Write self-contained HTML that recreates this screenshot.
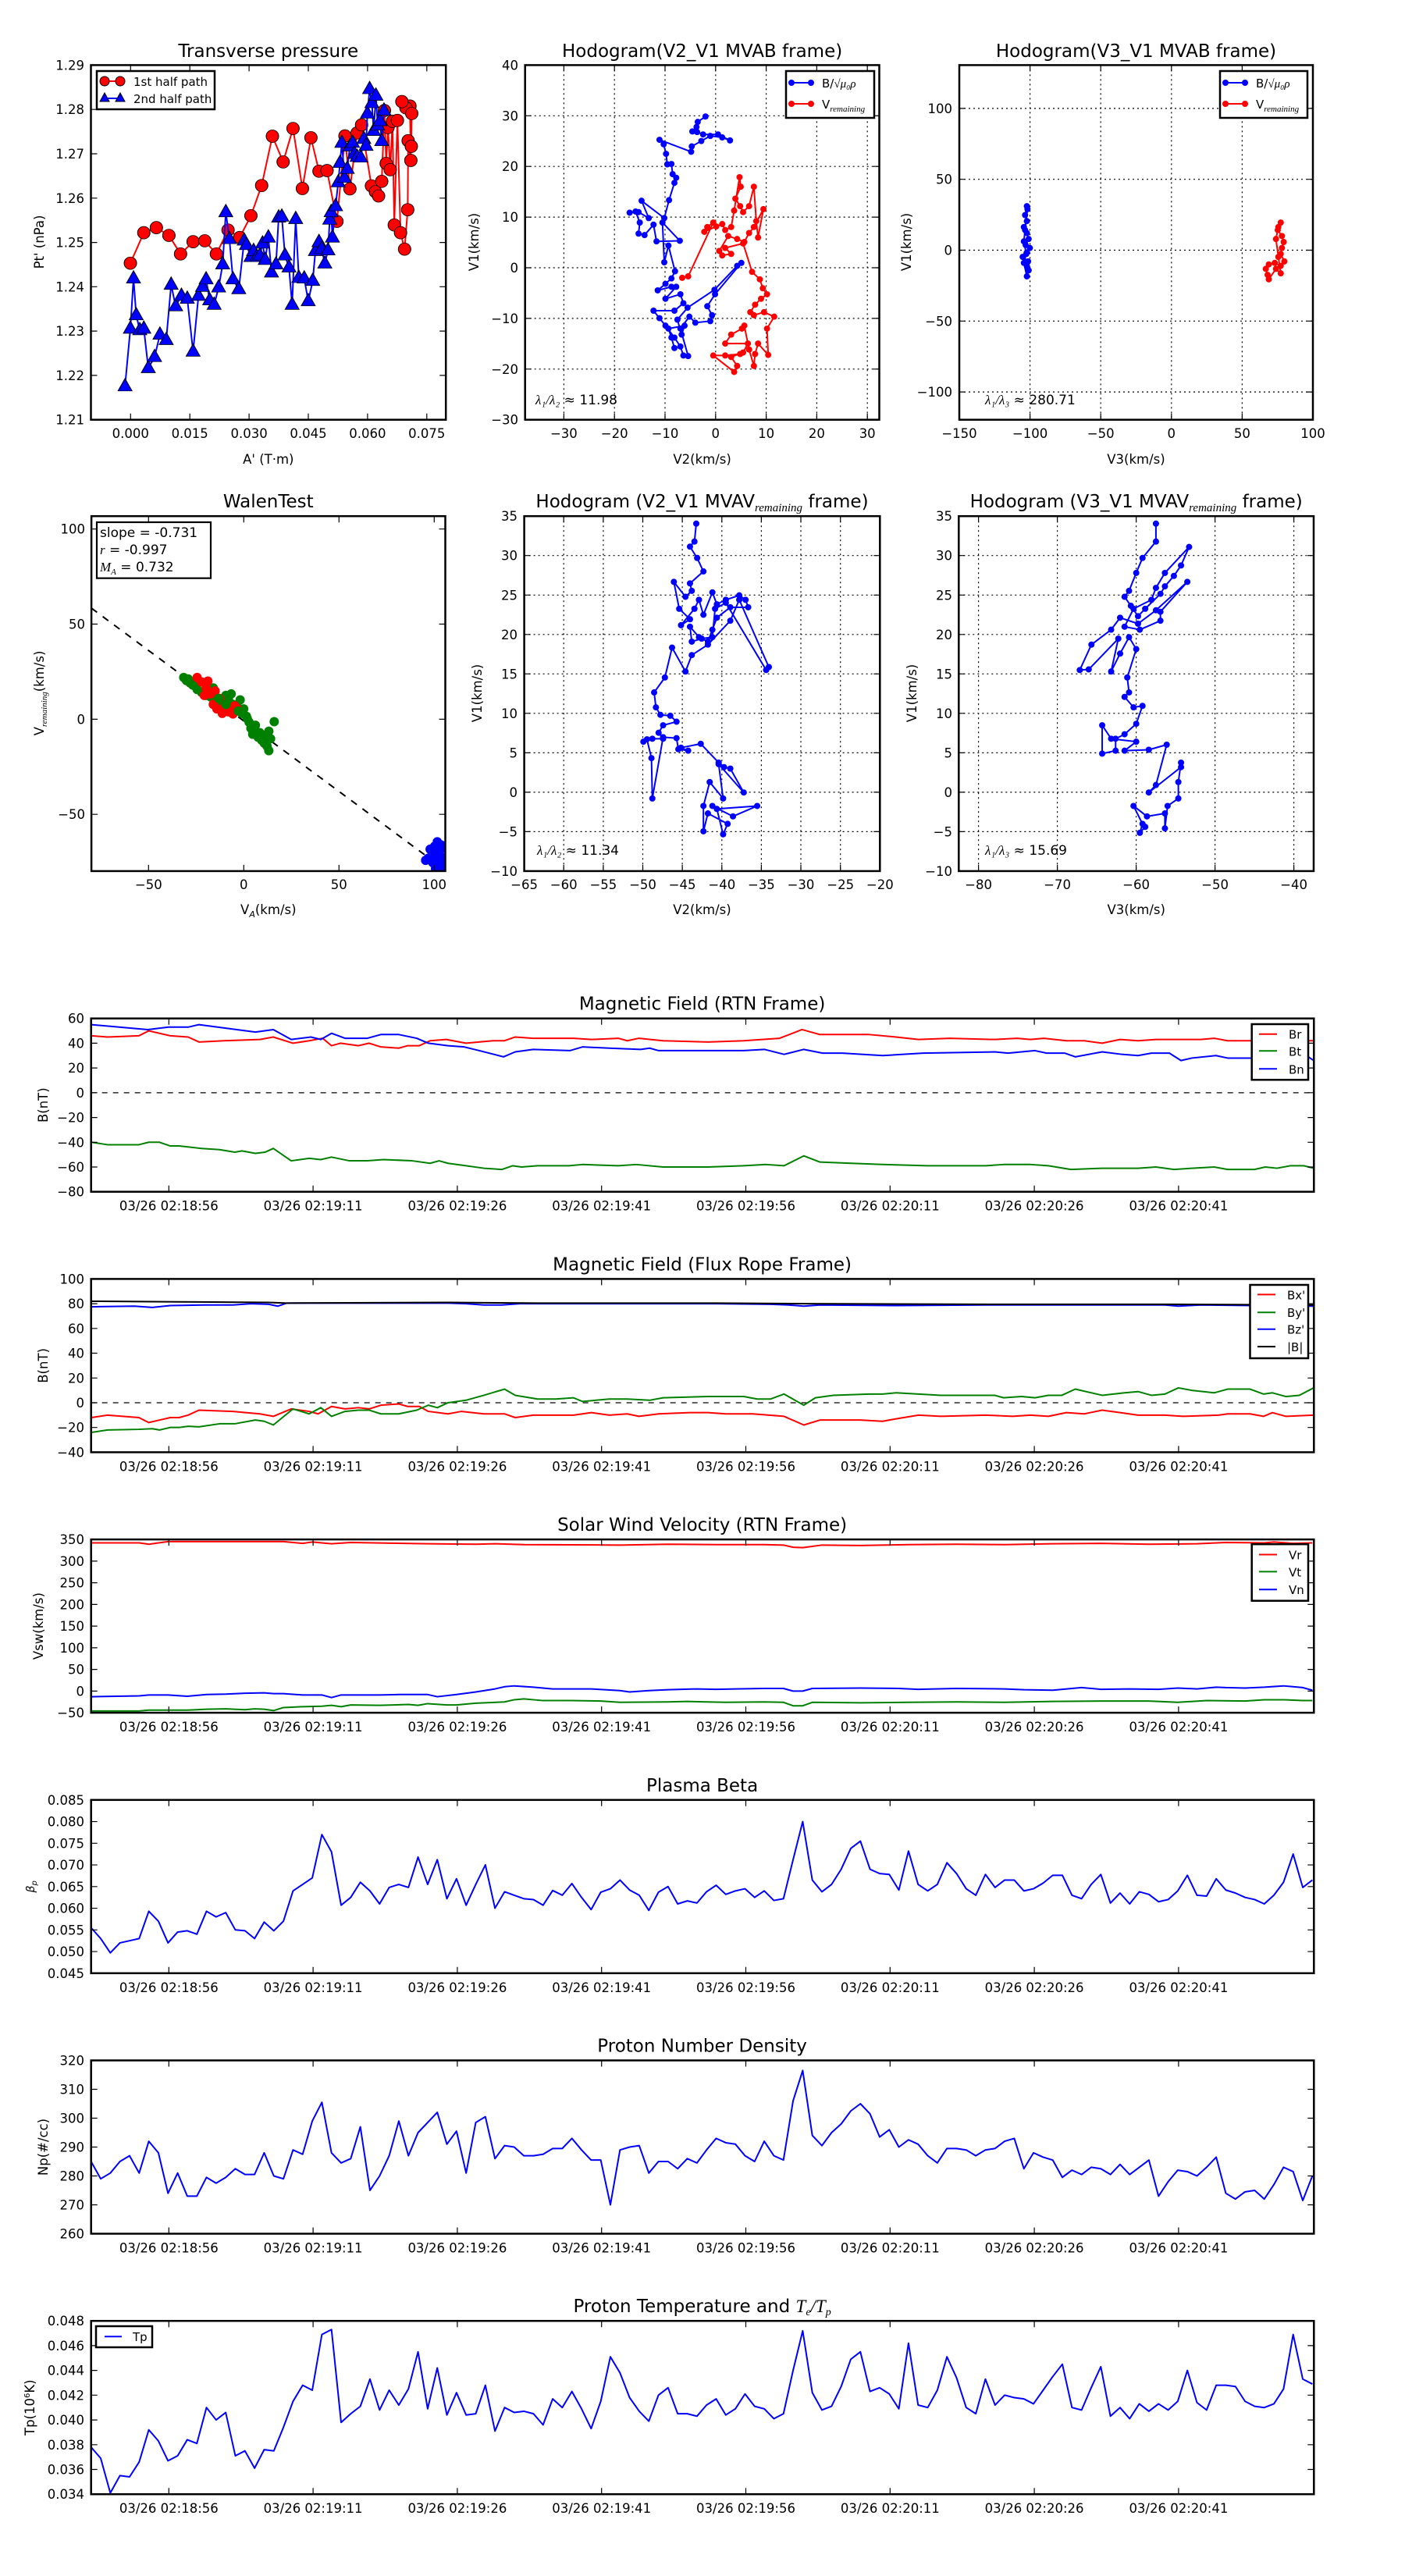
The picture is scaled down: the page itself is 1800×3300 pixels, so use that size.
<!DOCTYPE html>
<html><head><meta charset="utf-8"><style>
html,body{margin:0;padding:0;background:#fff}
svg{display:block}
text{font-family:"DejaVu Sans","Liberation Sans",sans-serif;fill:#000}
.t{font-size:16.5px}
.ti{font-size:23px}
.al{font-size:16.5px}
.ax{fill:none;stroke:#000;stroke-width:2.5}
.tk{fill:none;stroke:#000;stroke-width:1.2}
.gr{fill:none;stroke:#000;stroke-width:1.2;stroke-dasharray:2,4}
.ln{fill:none;stroke-width:2;vector-effect:non-scaling-stroke;stroke-linejoin:round}
.lg{fill:#fff;stroke:#000;stroke-width:2.5}
</style></head><body>
<svg width="1800" height="3300" viewBox="0 0 1800 3300" xmlns="http://www.w3.org/2000/svg">
<defs>
<marker id="mTPc" markerUnits="userSpaceOnUse" markerWidth="60" markerHeight="60" refX="0" refY="0" overflow="visible"><ellipse cx="0" cy="0" rx="13.9" ry="20.9" fill="#f00" stroke="#000" stroke-width="1.8"/></marker>
<marker id="mTPt" markerUnits="userSpaceOnUse" markerWidth="60" markerHeight="60" refX="0" refY="0" overflow="visible"><polygon points="0,-26 -15.7,15.7 15.7,15.7" fill="#00f" stroke="#000" stroke-width="1.8"/></marker>
<marker id="m3b" markerUnits="userSpaceOnUse" markerWidth="40" markerHeight="40" refX="0" refY="0" overflow="visible"><ellipse rx="5.2" ry="10.45" fill="#00f"/></marker>
<marker id="m3r" markerUnits="userSpaceOnUse" markerWidth="40" markerHeight="40" refX="0" refY="0" overflow="visible"><ellipse rx="5.2" ry="10.45" fill="#f00"/></marker>
<marker id="m4b" markerUnits="userSpaceOnUse" markerWidth="40" markerHeight="40" refX="0" refY="0" overflow="visible"><ellipse rx="3.5" ry="10.45" fill="#00f"/></marker>
<marker id="mWg" markerUnits="userSpaceOnUse" markerWidth="40" markerHeight="40" refX="0" refY="0" overflow="visible"><ellipse rx="5.2" ry="15.7" fill="#008000"/></marker>
<marker id="mWr" markerUnits="userSpaceOnUse" markerWidth="40" markerHeight="40" refX="0" refY="0" overflow="visible"><ellipse rx="5.2" ry="15.7" fill="#f00"/></marker>
<marker id="mWb" markerUnits="userSpaceOnUse" markerWidth="40" markerHeight="40" refX="0" refY="0" overflow="visible"><ellipse rx="5.2" ry="15.7" fill="#00f"/></marker>
<clipPath id="cW"><rect x="117.1" y="661.2" width="453.4" height="454.7"/></clipPath>
<clipPath id="cT"><rect x="116.7" y="0" width="1566.6" height="222"/></clipPath>
<g id="xt">
<path class="tk" d="M216.3,222v-8M401.1,222v-8M585.9,222v-8M770.7,222v-8M955.5,222v-8M1140.3,222v-8M1325.1,222v-8M1509.9,222v-8M216.3,0v8M401.1,0v8M585.9,0v8M770.7,0v8M955.5,0v8M1140.3,0v8M1325.1,0v8M1509.9,0v8"/>
<g class="t" text-anchor="middle">
<text x="216.3" y="246">03/26 02:18:56</text><text x="401.1" y="246">03/26 02:19:11</text><text x="585.9" y="246">03/26 02:19:26</text><text x="770.7" y="246">03/26 02:19:41</text><text x="955.5" y="246">03/26 02:19:56</text><text x="1140.3" y="246">03/26 02:20:11</text><text x="1325.1" y="246">03/26 02:20:26</text><text x="1509.9" y="246">03/26 02:20:41</text>
</g></g>
</defs>
<rect width="1800" height="3300" fill="#fff"/>

<!-- ================= Transverse pressure ================= -->
<text class="ti" x="343.8" y="73" text-anchor="middle">Transverse pressure</text>
<g transform="scale(0.574,0.3827)">
<polyline class="ln" stroke="#f00" marker-start="url(#mTPc)" marker-mid="url(#mTPc)" marker-end="url(#mTPc)" points="291,881 321,779 349,762 377,788 403,850 431,809 457,806 483,850 509,770 535,795 560,722 584,621 608,456 632,542 654,430 675,631 694,461 712,573 730,571 752,741 770,455 781,632 797,445 807,418 829,622 838,642 845,656 852,607 858,370 862,547 866,427 871,568 876,406 880,753 887,403 894,779 903,834 910,702 911,471 917,537 915,355 906,361 897,340 919,380 918,490"/>
<polyline class="ln" stroke="#00f" marker-start="url(#mTPt)" marker-mid="url(#mTPt)" marker-end="url(#mTPt)" points="279,1293 291,1100 298,932 304,1055 312,1105 321,1100 331,1232 345,1195 357,1120 371,1138 382,953 392,1025 405,990 418,1000 431,1177 443,990 452,960 460,935 468,1005 478,1020 488,962 497,885 504,710 512,800 520,935 533,968 545,805 550,820 560,860 566,840 573,860 580,855 586,815 592,870 599,795 606,912 616,885 622,728 629,725 636,855 645,895 652,1020 660,733 667,930 679,932 688,1008 698,940 704,840 712,810 718,833 725,882 732,838 736,735 739,710 742,795 749,690 755,610 759,545 763,478 769,595 775,565 781,490 787,478 791,515 797,525 805,527 812,465 817,488 820,380 825,298 830,345 834,438 839,320 843,420 848,405 852,472 857,370"/>
</g>
<rect class="ax" x="116.5" y="83.4" width="454.7" height="454.3"/>
<path class="tk" d="M167.3,537.7v-8M243.2,537.7v-8M319.1,537.7v-8M395,537.7v-8M470.9,537.7v-8M546.8,537.7v-8M167.3,83.4v8M243.2,83.4v8M319.1,83.4v8M395,83.4v8M470.9,83.4v8M546.8,83.4v8M116.5,140.2h8M116.5,197h8M116.5,253.8h8M116.5,310.6h8M116.5,367.3h8M116.5,424.1h8M116.5,480.9h8M571.2,140.2h-8M571.2,197h-8M571.2,253.8h-8M571.2,310.6h-8M571.2,367.3h-8M571.2,424.1h-8M571.2,480.9h-8"/>
<g class="t" text-anchor="middle"><text x="167.3" y="561">0.000</text><text x="243.2" y="561">0.015</text><text x="319.1" y="561">0.030</text><text x="395" y="561">0.045</text><text x="470.9" y="561">0.060</text><text x="546.8" y="561">0.075</text></g>
<g class="t" text-anchor="end"><text x="108" y="89.4">1.29</text><text x="108" y="146.2">1.28</text><text x="108" y="203">1.27</text><text x="108" y="259.8">1.26</text><text x="108" y="316.6">1.25</text><text x="108" y="373.3">1.24</text><text x="108" y="430.1">1.23</text><text x="108" y="486.9">1.22</text><text x="108" y="543.7">1.21</text></g>
<text class="al" x="343.8" y="594" text-anchor="middle">A' (T·m)</text>
<text class="al" transform="translate(56,310) rotate(-90)" text-anchor="middle">Pt' (nPa)</text>
<rect class="lg" x="124" y="91" width="151" height="49"/>
<line x1="134" y1="104" x2="154" y2="104" stroke="#f00" stroke-width="2"/><circle cx="134" cy="104" r="6" fill="#f00" stroke="#000"/><circle cx="154" cy="104" r="6" fill="#f00" stroke="#000"/>
<line x1="134" y1="126" x2="154" y2="126" stroke="#00f" stroke-width="2"/><polygon points="134,119 128,130 140,130" fill="#00f" stroke="#000"/><polygon points="154,119 148,130 160,130" fill="#00f" stroke="#000"/>
<text x="171" y="110" font-size="15">1st half path</text><text x="171" y="132" font-size="15">2nd half path</text>

<!-- ================= Hodogram V2_V1 MVAB ================= -->
<text class="ti" x="899.6" y="73" text-anchor="middle">Hodogram(V2_V1 MVAB frame)</text>
<path class="gr" d="M722.4,83.4V537.7M787.2,83.4V537.7M852,83.4V537.7M916.8,83.4V537.7M981.6,83.4V537.7M1046.4,83.4V537.7M1111.2,83.4V537.7M672.7,148.3H1126.5M672.7,213.2H1126.5M672.7,278.1H1126.5M672.7,343H1126.5M672.7,407.9H1126.5M672.7,472.8H1126.5"/>
<g transform="translate(600,0) scale(0.7653,0.3827)">
<polyline class="ln" stroke="#00f" marker-start="url(#m3b)" marker-mid="url(#m3b)" marker-end="url(#m3b)" points="397,390 384,408 382,425 375,440 383,442 393,450 418,450 438,470 425,460 405,455 390,472 374,490 373,508 320,468 327,483 331,515 333,550 340,549 342,583 348,595 345,612 336,670 328,730 290,672 302,730 285,710 270,712 280,708 287,745 285,782 295,787 310,752 315,808 354,806 325,745 328,878 335,822 346,908 340,932 330,950 317,972 340,960 348,960 330,1000 355,985 360,1015 345,1040 310,1040 320,1065 330,1090 345,1130 355,1160 360,1190 368,1192 355,1100 370,1060 380,1080 405,1075 408,1055 400,1025 413,985 457,880 450,890 412,970 367,1030 350,1070 357,1120 362,1090 335,1100 340,1130 345,1165"/>
<polyline class="ln" stroke="#f00" marker-start="url(#m3r)" marker-mid="url(#m3r)" marker-end="url(#m3r)" points="358,930 368,925 410,745 400,760 395,776 415,758 425,750 430,770 440,760 445,705 454,593 456,625 447,665 455,690 460,710 470,690 478,625 482,740 485,795 494,700 478,760 470,780 462,810 450,800 435,790 420,840 425,855 440,850 430,830 460,815 475,910 488,935 493,965 500,985 490,1000 480,1020 472,1045 478,1055 495,1045 512,1060 500,1100 502,1188 485,1150 480,1185 478,1225 470,1170 462,1090 458,1100 440,1120 430,1150 468,1150 460,1180 440,1195 450,1225 445,1245 410,1190 430,1190 455,1185"/>
</g>
<rect class="ax" x="672.7" y="83.4" width="453.8" height="454.3"/>
<path class="tk" d="M722.4,537.7v-8M787.2,537.7v-8M852,537.7v-8M916.8,537.7v-8M981.6,537.7v-8M1046.4,537.7v-8M1111.2,537.7v-8M722.4,83.4v8M787.2,83.4v8M852,83.4v8M916.8,83.4v8M981.6,83.4v8M1046.4,83.4v8M1111.2,83.4v8M672.7,148.3h8M672.7,213.2h8M672.7,278.1h8M672.7,343h8M672.7,407.9h8M672.7,472.8h8M1126.5,148.3h-8M1126.5,213.2h-8M1126.5,278.1h-8M1126.5,343h-8M1126.5,407.9h-8M1126.5,472.8h-8"/>
<g class="t" text-anchor="middle"><text x="722.4" y="561">−30</text><text x="787.2" y="561">−20</text><text x="852" y="561">−10</text><text x="916.8" y="561">0</text><text x="981.6" y="561">10</text><text x="1046.4" y="561">20</text><text x="1111.2" y="561">30</text></g>
<g class="t" text-anchor="end"><text x="664" y="89.4">40</text><text x="664" y="154.3">30</text><text x="664" y="219.2">20</text><text x="664" y="284.1">10</text><text x="664" y="349">0</text><text x="664" y="413.9">−10</text><text x="664" y="478.8">−20</text><text x="664" y="543.7">−30</text></g>
<text class="al" x="899.6" y="594" text-anchor="middle">V2(km/s)</text>
<text class="al" transform="translate(613,310) rotate(-90)" text-anchor="middle">V1(km/s)</text>
<text x="686" y="518" font-size="17"><tspan font-style="italic" font-family="Liberation Serif,serif">λ₁/λ₂</tspan> ≈ 11.98</text>
<rect class="lg" x="1007" y="91" width="113" height="60"/>
<line x1="1014" y1="106" x2="1039" y2="106" stroke="#00f" stroke-width="2"/><circle cx="1014" cy="106" r="4" fill="#00f"/><circle cx="1039" cy="106" r="4" fill="#00f"/>
<line x1="1014" y1="133" x2="1039" y2="133" stroke="#f00" stroke-width="2"/><circle cx="1014" cy="133" r="4" fill="#f00"/><circle cx="1039" cy="133" r="4" fill="#f00"/>
<text x="1053" y="112" font-size="15">B/<tspan font-family="Liberation Serif,serif" font-style="italic">√μ₀ρ</tspan></text>
<text x="1053" y="139" font-size="15">V<tspan font-size="11" font-style="italic" font-family="Liberation Serif,serif" dy="4">remaining</tspan></text>

<!-- ================= Hodogram V3_V1 MVAB ================= -->
<text class="ti" x="1455.5" y="73" text-anchor="middle">Hodogram(V3_V1 MVAB frame)</text>
<path class="gr" d="M1319.6,83.4V537.7M1410.2,83.4V537.7M1500.8,83.4V537.7M1591.4,83.4V537.7M1229,138.9H1682M1229,229.7H1682M1229,320.5H1682M1229,411.3H1682M1229,502.1H1682"/>
<g transform="translate(600,0) scale(0.7653,0.3827)">
<polyline class="ln" stroke="#00f" marker-start="url(#m3b)" marker-mid="url(#m3b)" marker-end="url(#m3b)" points="935,690 932,720 935,740 930,760 935,780 938,800 933,820 940,830 935,845 928,860 937,875 935,890 938,905 935,925 930,880 934,850 930,808 932,770 936,700"/>
<polyline class="ln" stroke="#f00" marker-start="url(#m3r)" marker-mid="url(#m3r)" marker-end="url(#m3r)" points="1360,745 1355,770 1362,790 1365,810 1362,830 1360,850 1366,875 1360,890 1350,880 1340,885 1335,900 1338,920 1340,935 1352,900 1360,915 1356,860 1352,800 1356,760"/>
</g>
<rect class="ax" x="1229" y="83.4" width="453" height="454.3"/>
<path class="tk" d="M1319.6,537.7v-8M1410.2,537.7v-8M1500.8,537.7v-8M1591.4,537.7v-8M1319.6,83.4v8M1410.2,83.4v8M1500.8,83.4v8M1591.4,83.4v8M1229,138.9h8M1229,229.7h8M1229,320.5h8M1229,411.3h8M1229,502.1h8M1682,138.9h-8M1682,229.7h-8M1682,320.5h-8M1682,411.3h-8M1682,502.1h-8"/>
<g class="t" text-anchor="middle"><text x="1229" y="561">−150</text><text x="1319.6" y="561">−100</text><text x="1410.2" y="561">−50</text><text x="1500.8" y="561">0</text><text x="1591.4" y="561">50</text><text x="1682" y="561">100</text></g>
<g class="t" text-anchor="end"><text x="1220" y="144.9">100</text><text x="1220" y="235.7">50</text><text x="1220" y="326.5">0</text><text x="1220" y="417.3">−50</text><text x="1220" y="508.1">−100</text></g>
<text class="al" x="1455.5" y="594" text-anchor="middle">V3(km/s)</text>
<text class="al" transform="translate(1167,310) rotate(-90)" text-anchor="middle">V1(km/s)</text>
<text x="1262" y="518" font-size="17"><tspan font-style="italic" font-family="Liberation Serif,serif">λ₁/λ₃</tspan> ≈ 280.71</text>
<rect class="lg" x="1563" y="91" width="112" height="60"/>
<line x1="1570" y1="106" x2="1595" y2="106" stroke="#00f" stroke-width="2"/><circle cx="1570" cy="106" r="4" fill="#00f"/><circle cx="1595" cy="106" r="4" fill="#00f"/>
<line x1="1570" y1="133" x2="1595" y2="133" stroke="#f00" stroke-width="2"/><circle cx="1570" cy="133" r="4" fill="#f00"/><circle cx="1595" cy="133" r="4" fill="#f00"/>
<text x="1609" y="112" font-size="15">B/<tspan font-family="Liberation Serif,serif" font-style="italic">√μ₀ρ</tspan></text>
<text x="1609" y="139" font-size="15">V<tspan font-size="11" font-style="italic" font-family="Liberation Serif,serif" dy="4">remaining</tspan></text>

<!-- ================= Walen ================= -->
<text class="ti" x="343.8" y="650" text-anchor="middle">WalenTest</text>
<g clip-path="url(#cW)">
<line x1="117.1" y1="779.1" x2="570.6" y2="1114.7" stroke="#000" stroke-width="2" stroke-dasharray="9,9"/>
<g transform="translate(0,600) scale(1.148,0.3827)">
<polyline fill="none" stroke="none" marker-start="url(#mWg)" marker-mid="url(#mWg)" marker-end="url(#mWg)" points="205,700 208,710 212,718 210,705 215,725 220,740 218,730 225,750 230,760 228,745 235,765 238,735 240,772 242,780 245,790 248,800 250,785 252,760 255,775 258,755 260,790 262,810 265,800 268,775 270,820 272,805 275,830 278,850 280,870 282,890 285,880 288,900 290,885 292,910 295,920 298,930 300,945 302,905 300,880 306,848 296,895 285,860 240,745 232,735"/>
<polyline fill="none" stroke="none" marker-start="url(#mWr)" marker-mid="url(#mWr)" marker-end="url(#mWr)" points="220,700 225,715 232,712 230,735 235,755 240,745 238,790 242,805 245,770 250,800 255,815 260,822 265,805 262,795 248,820 228,760"/>
<polyline fill="none" stroke="none" marker-start="url(#mWg)" marker-mid="url(#mWg)" marker-end="url(#mWg)" points="244,770 252,790 266,812 276,838 284,872 293,900"/>
<polyline fill="none" stroke="none" marker-start="url(#mWb)" marker-mid="url(#mWb)" marker-end="url(#mWb)" points="488,1250 485,1265 492,1260 480,1275 487,1285 495,1270 478,1305 485,1300 492,1310 475,1312 483,1320 490,1330 486,1340 495,1335 488,1290 493,1300"/>
</g></g>
<rect class="ax" x="117.1" y="661.2" width="453.4" height="454.7"/>
<path class="tk" d="M190.3,1115.9v-8M312.3,1115.9v-8M434.3,1115.9v-8M556.3,1115.9v-8M190.3,661.2v8M312.3,661.2v8M434.3,661.2v8M556.3,661.2v8M117.1,677.7h8M117.1,799.5h8M117.1,921.4h8M117.1,1043.2h8M570.5,677.7h-8M570.5,799.5h-8M570.5,921.4h-8M570.5,1043.2h-8"/>
<g class="t" text-anchor="middle"><text x="190.3" y="1139">−50</text><text x="312.3" y="1139">0</text><text x="434.3" y="1139">50</text><text x="556.3" y="1139">100</text></g>
<g class="t" text-anchor="end"><text x="109" y="683.7">100</text><text x="109" y="805.5">50</text><text x="109" y="927.4">0</text><text x="109" y="1049.2">−50</text></g>
<text class="al" x="343.8" y="1171" text-anchor="middle">V<tspan font-size="11" font-style="italic" dy="4">A</tspan><tspan dy="-4">(km/s)</tspan></text>
<text class="al" transform="translate(56,888) rotate(-90)" text-anchor="middle">V<tspan font-size="11" font-style="italic" font-family="Liberation Serif,serif" dy="4">remaining</tspan><tspan dy="-4">(km/s)</tspan></text>
<rect x="124" y="669" width="146" height="71.7" fill="#fff" stroke="#000" stroke-width="2.2"/>
<text x="128" y="688" font-size="17">slope = -0.731</text>
<text x="128" y="710" font-size="17"><tspan font-style="italic" font-family="Liberation Serif,serif">r</tspan> = -0.997</text>
<text x="128" y="732" font-size="17"><tspan font-style="italic" font-family="Liberation Serif,serif">M<tspan font-size="11" dy="4">A</tspan></tspan><tspan dy="-4"> = 0.732</tspan></text>

<!-- ================= Hodogram V2_V1 MVAV ================= -->
<text class="ti" x="899.5" y="650" text-anchor="middle">Hodogram (V2_V1 MVAV<tspan font-size="15" font-style="italic" font-family="Liberation Serif,serif" dy="5">remaining</tspan><tspan dy="-5"> frame)</tspan></text>
<path class="gr" d="M722.2,661.2V1115.9M772.9,661.2V1115.9M823.5,661.2V1115.9M874.1,661.2V1115.9M924.8,661.2V1115.9M975.4,661.2V1115.9M1026,661.2V1115.9M1076.7,661.2V1115.9M671.6,711.7H1127.3M671.6,762.3H1127.3M671.6,812.8H1127.3M671.6,863.3H1127.3M671.6,913.8H1127.3M671.6,964.4H1127.3M671.6,1014.9H1127.3M671.6,1065.4H1127.3"/>
<g transform="translate(0,600) scale(1.148,0.3827)">
<polyline class="ln" stroke="#00f" marker-start="url(#m4b)" marker-mid="url(#m4b)" marker-end="url(#m4b)" points="777,185 775,245 770,262 778,300 785,345 770,385 772,410 765,430 752,380 758,470 770,505 760,525 775,470 780,440 785,490 795,415 800,455 810,440 825,425 832,440 835,465 815,465 800,500 795,540 790,580 780,565 770,530 772,580 783,570 795,565 798,470 810,450 855,675 858,665 825,440 815,510 790,590 772,625 765,680 750,600 742,700 730,750 732,800 737,825 748,828 755,848 740,860 735,885 740,905 728,905 718,915 722,907 727,970 728,1105 740,900 755,903 757,940 768,945 760,935 782,922 802,985 808,1000 815,1005 830,1085 802,990 807,1105 792,1050 785,1130 785,1215 790,1155 812,1190 807,1225 800,1140 845,1130 818,1165 795,1130"/>
</g>
<rect class="ax" x="671.6" y="661.2" width="455.7" height="454.7"/>
<path class="tk" d="M722.2,1115.9v-8M772.9,1115.9v-8M823.5,1115.9v-8M874.1,1115.9v-8M924.8,1115.9v-8M975.4,1115.9v-8M1026,1115.9v-8M1076.7,1115.9v-8M722.2,661.2v8M772.9,661.2v8M823.5,661.2v8M874.1,661.2v8M924.8,661.2v8M975.4,661.2v8M1026,661.2v8M1076.7,661.2v8M671.6,711.7h8M671.6,762.3h8M671.6,812.8h8M671.6,863.3h8M671.6,913.8h8M671.6,964.4h8M671.6,1014.9h8M671.6,1065.4h8M1127.3,711.7h-8M1127.3,762.3h-8M1127.3,812.8h-8M1127.3,863.3h-8M1127.3,913.8h-8M1127.3,964.4h-8M1127.3,1014.9h-8M1127.3,1065.4h-8"/>
<g class="t" text-anchor="middle"><text x="671.6" y="1139">−65</text><text x="722.2" y="1139">−60</text><text x="772.9" y="1139">−55</text><text x="823.5" y="1139">−50</text><text x="874.1" y="1139">−45</text><text x="924.8" y="1139">−40</text><text x="975.4" y="1139">−35</text><text x="1026" y="1139">−30</text><text x="1076.7" y="1139">−25</text><text x="1127.3" y="1139">−20</text></g>
<g class="t" text-anchor="end"><text x="663" y="667.2">35</text><text x="663" y="717.7">30</text><text x="663" y="768.3">25</text><text x="663" y="818.8">20</text><text x="663" y="869.3">15</text><text x="663" y="919.8">10</text><text x="663" y="970.4">5</text><text x="663" y="1020.9">0</text><text x="663" y="1071.4">−5</text><text x="663" y="1121.9">−10</text></g>
<text class="al" x="899.5" y="1171" text-anchor="middle">V2(km/s)</text>
<text class="al" transform="translate(617,888) rotate(-90)" text-anchor="middle">V1(km/s)</text>
<text x="688" y="1095" font-size="17"><tspan font-style="italic" font-family="Liberation Serif,serif">λ₁/λ₂</tspan> ≈ 11.34</text>

<!-- ================= Hodogram V3_V1 MVAV ================= -->
<text class="ti" x="1455.7" y="650" text-anchor="middle">Hodogram (V3_V1 MVAV<tspan font-size="15" font-style="italic" font-family="Liberation Serif,serif" dy="5">remaining</tspan><tspan dy="-5"> frame)</tspan></text>
<path class="gr" d="M1253.6,661.2V1115.9M1354.6,661.2V1115.9M1455.6,661.2V1115.9M1556.6,661.2V1115.9M1657.6,661.2V1115.9M1228.3,711.7H1683M1228.3,762.3H1683M1228.3,812.8H1683M1228.3,863.3H1683M1228.3,913.8H1683M1228.3,964.4H1683M1228.3,1014.9H1683M1228.3,1065.4H1683"/>
<g transform="translate(0,600) scale(1.148,0.3827)">
<polyline class="ln" stroke="#00f" marker-start="url(#m4b)" marker-mid="url(#m4b)" marker-end="url(#m4b)" points="1290,185 1290,245 1275,300 1268,350 1260,410 1255,430 1262,460 1270,495 1278,470 1295,420 1300,395 1310,360 1318,325 1327,263 1300,350 1290,400 1285,440 1265,470 1255,530 1272,540 1295,510 1295,480 1325,380 1290,475 1270,520 1250,500 1240,540 1218,590 1205,675 1215,673 1248,570 1240,680 1250,620 1260,565 1268,605 1258,700 1260,750 1255,765 1265,800 1275,795 1268,855 1255,890 1245,905 1245,945 1230,955 1230,860 1240,905 1268,915 1255,945 1282,942 1302,925 1290,1060 1282,1085 1318,1000 1318,985 1315,1050 1315,1105 1303,1130 1300,1205 1300,1155 1280,1165 1265,1130 1275,1190 1272,1220 1278,1200"/>
</g>
<rect class="ax" x="1228.3" y="661.2" width="454.7" height="454.7"/>
<path class="tk" d="M1253.6,1115.9v-8M1354.6,1115.9v-8M1455.6,1115.9v-8M1556.6,1115.9v-8M1657.6,1115.9v-8M1253.6,661.2v8M1354.6,661.2v8M1455.6,661.2v8M1556.6,661.2v8M1657.6,661.2v8M1228.3,711.7h8M1228.3,762.3h8M1228.3,812.8h8M1228.3,863.3h8M1228.3,913.8h8M1228.3,964.4h8M1228.3,1014.9h8M1228.3,1065.4h8M1683,711.7h-8M1683,762.3h-8M1683,812.8h-8M1683,863.3h-8M1683,913.8h-8M1683,964.4h-8M1683,1014.9h-8M1683,1065.4h-8"/>
<g class="t" text-anchor="middle"><text x="1253.6" y="1139">−80</text><text x="1354.6" y="1139">−70</text><text x="1455.6" y="1139">−60</text><text x="1556.6" y="1139">−50</text><text x="1657.6" y="1139">−40</text></g>
<g class="t" text-anchor="end"><text x="1220" y="667.2">35</text><text x="1220" y="717.7">30</text><text x="1220" y="768.3">25</text><text x="1220" y="818.8">20</text><text x="1220" y="869.3">15</text><text x="1220" y="919.8">10</text><text x="1220" y="970.4">5</text><text x="1220" y="1020.9">0</text><text x="1220" y="1071.4">−5</text><text x="1220" y="1121.9">−10</text></g>
<text class="al" x="1455.7" y="1171" text-anchor="middle">V3(km/s)</text>
<text class="al" transform="translate(1174,888) rotate(-90)" text-anchor="middle">V1(km/s)</text>
<text x="1262" y="1095" font-size="17"><tspan font-style="italic" font-family="Liberation Serif,serif">λ₁/λ₃</tspan> ≈ 15.69</text>

<!-- ================= Magnetic Field RTN ================= -->
<g transform="translate(0,1304.7)">
<text class="ti" x="899.6" y="-11" text-anchor="middle">Magnetic Field (RTN Frame)</text>
<line x1="116.7" y1="95.14" x2="1683" y2="95.14" stroke="#000" stroke-width="1.3" stroke-dasharray="7,7"/>
<g clip-path="url(#cT)"><g transform="translate(0,95.14) scale(1.148,-1.5857)">
<polyline class="ln" stroke="#f00" points="102,46 120,45 155,46 166,50 190,46 210,45 222,41 250,42 290,43 305,45 327,40 345,42 360,44 370,38 380,40 400,38 412,40 425,37 445,36 455,38 468,38 480,42 498,43 520,40 550,42 563,42 575,45 595,44 640,44 660,43 690,44 700,42 713,44 740,42 790,41 830,42 870,44 895,51 915,47 970,47 1000,45 1025,43 1060,44 1110,43 1135,44 1150,43 1165,44 1190,42 1210,42 1230,40 1250,43 1270,42 1290,43 1340,43 1355,44 1370,42 1400,42 1420,44 1440,42 1466,42"/>
<polyline class="ln" stroke="#008000" points="102,-40 120,-42 155,-42 166,-40 178,-40 190,-43 200,-43 225,-45 245,-46 262,-48 270,-47 285,-49 296,-48 305,-45 325,-55 345,-53 358,-54 370,-52 390,-55 410,-55 428,-54 460,-55 480,-57 490,-55 500,-57 520,-59 540,-61 560,-62 572,-59 582,-60 600,-59 635,-59 650,-58 690,-59 710,-58 740,-60 790,-60 830,-59 855,-58 875,-59 897,-51 915,-56 950,-57 985,-58 1035,-59 1100,-59 1120,-58 1150,-58 1170,-59 1195,-62 1230,-61 1270,-61 1290,-60 1310,-62 1330,-61 1355,-60 1370,-62 1400,-62 1412,-60 1425,-61 1440,-59 1455,-59 1466,-61"/>
<polyline class="ln" stroke="#00f" points="102,55 165,51 188,53 210,53 222,55 285,49 305,51 325,43 347,45 358,43 370,48 385,44 410,44 425,47 445,47 465,44 478,40 500,38 518,37 535,34 562,29 575,33 595,35 636,34 650,37 680,36 715,35 725,36 735,34 800,34 830,34 853,35 875,31 897,35 918,32 940,32 985,30 1030,32 1110,33 1125,32 1155,34 1168,32 1188,32 1200,29 1230,33 1252,31 1270,30 1285,32 1305,32 1318,26 1330,28 1357,30 1370,28 1395,28 1410,28 1420,33 1440,32 1460,29 1466,26"/>
</g></g>
<rect class="ax" x="116.7" y="0" width="1566.6" height="222"/>
<use href="#xt"/>
<path class="tk" d="M116.7,31.7h8M116.7,63.4h8M116.7,95.1h8M116.7,126.9h8M116.7,158.6h8M116.7,190.3h8M1683.3,31.7h-8M1683.3,63.4h-8M1683.3,95.1h-8M1683.3,126.9h-8M1683.3,158.6h-8M1683.3,190.3h-8"/>
<g class="t" text-anchor="end"><text x="108" y="6">60</text><text x="108" y="37.7">40</text><text x="108" y="69.4">20</text><text x="108" y="101.1">0</text><text x="108" y="132.9">−20</text><text x="108" y="164.6">−40</text><text x="108" y="196.3">−60</text><text x="108" y="228">−80</text></g>
<text class="al" transform="translate(61,111) rotate(-90)" text-anchor="middle">B(nT)</text>
<rect class="lg" x="1603.7" y="7.3" width="72.3" height="71.3"/>
<line x1="1613" y1="20" x2="1636" y2="20" stroke="#f00" stroke-width="2"/><line x1="1613" y1="41.6" x2="1636" y2="41.6" stroke="#008000" stroke-width="2"/><line x1="1613" y1="64.6" x2="1636" y2="64.6" stroke="#00f" stroke-width="2"/>
<text x="1651" y="26" font-size="15">Br</text><text x="1651" y="47.6" font-size="15">Bt</text><text x="1651" y="70.6" font-size="15">Bn</text>
</g>

<!-- ================= Magnetic Field Flux Rope ================= -->
<g transform="translate(0,1638.4)">
<text class="ti" x="899.6" y="-11" text-anchor="middle">Magnetic Field (Flux Rope Frame)</text>
<line x1="116.7" y1="158.57" x2="1683" y2="158.57" stroke="#000" stroke-width="1.3" stroke-dasharray="7,7"/>
<g clip-path="url(#cT)"><g transform="translate(0,158.57) scale(1.148,-1.5857)">
<polyline class="ln" stroke="#00f" points="102,77.5 150,78 170,77 190,78.5 230,79 260,79 280,80 300,79.5 310,78 320,80.5 400,80.5 500,80.5 520,80 540,79 560,79 580,80 700,80 800,80 860,79.5 880,79 897,78 915,79 1000,78.5 1100,79 1200,79 1300,79 1315,78 1340,79 1466,78"/>
<polyline class="ln" stroke="#000" points="102,82 200,81.5 300,81 320,80.5 500,81 600,80.5 800,80.5 900,80 1100,79.5 1300,79.5 1466,79"/>
<polyline class="ln" stroke="#f00" points="102,-12 120,-10 155,-12 166,-16 178,-14 190,-12 200,-12 210,-10 222,-6 260,-7 290,-9 305,-11 325,-5 345,-7 355,-9 370,-3 385,-5 400,-4 412,-5 425,-2 445,-1 455,-3 468,-3 478,-7 500,-9 515,-7 540,-9 563,-9 575,-12 595,-10 640,-10 660,-8 680,-10 700,-9 713,-11 735,-9 770,-8 790,-8 810,-9 840,-9 875,-11 897,-18 915,-14 960,-14 985,-15 1000,-13 1025,-10 1050,-11 1100,-10 1130,-11 1150,-10 1170,-11 1190,-8 1210,-9 1230,-6 1250,-8 1270,-10 1300,-10 1320,-11 1360,-10 1370,-9 1395,-9 1410,-11 1420,-8 1435,-11 1466,-10"/>
<polyline class="ln" stroke="#008000" points="102,-24 120,-22 155,-21.5 170,-21 178,-22 190,-20 200,-20 210,-19 222,-19.5 245,-17 262,-17 285,-14 295,-15 305,-18 327,-5 345,-9 358,-4 370,-11 385,-7 400,-6 412,-6 425,-9 445,-9 465,-6 478,-2 488,-4 500,0 520,2 540,6 563,11 575,6 600,3 620,3 640,4 650,1 680,3 700,3 725,2 740,4 790,5 830,5 845,3 860,3 875,7 897,-2 910,4 930,6 970,7 985,7 1000,8 1025,7 1050,6 1080,6 1110,6 1120,4 1140,5 1155,4 1170,6 1185,6 1200,11 1230,6 1255,8 1270,9 1285,6 1300,7 1315,12 1330,10 1355,8 1370,11 1395,11 1410,7 1420,8 1435,5 1450,6 1466,12"/>
</g></g>
<rect class="ax" x="116.7" y="0" width="1566.6" height="222"/>
<use href="#xt"/>
<path class="tk" d="M116.7,31.7h8M116.7,63.4h8M116.7,95.1h8M116.7,126.9h8M116.7,158.6h8M116.7,190.3h8M1683.3,31.7h-8M1683.3,63.4h-8M1683.3,95.1h-8M1683.3,126.9h-8M1683.3,158.6h-8M1683.3,190.3h-8"/>
<g class="t" text-anchor="end"><text x="108" y="6">100</text><text x="108" y="37.7">80</text><text x="108" y="69.4">60</text><text x="108" y="101.1">40</text><text x="108" y="132.9">20</text><text x="108" y="164.6">0</text><text x="108" y="196.3">−20</text><text x="108" y="228">−40</text></g>
<text class="al" transform="translate(61,111) rotate(-90)" text-anchor="middle">B(nT)</text>
<rect class="lg" x="1601.5" y="7.6" width="74.5" height="94"/>
<line x1="1611" y1="20" x2="1634" y2="20" stroke="#f00" stroke-width="2"/><line x1="1611" y1="42.8" x2="1634" y2="42.8" stroke="#008000" stroke-width="2"/><line x1="1611" y1="64.3" x2="1634" y2="64.3" stroke="#00f" stroke-width="2"/><line x1="1611" y1="86.7" x2="1634" y2="86.7" stroke="#000" stroke-width="2"/>
<text x="1649" y="26" font-size="15">Bx'</text><text x="1649" y="48.8" font-size="15">By'</text><text x="1649" y="70.3" font-size="15">Bz'</text><text x="1649" y="92.7" font-size="15">|B|</text>
</g>

<!-- ================= Velocity ================= -->
<g transform="translate(0,1972.1)">
<text class="ti" x="899.6" y="-11" text-anchor="middle">Solar Wind Velocity (RTN Frame)</text>
<g clip-path="url(#cT)"><g transform="translate(116.7,194.25) scale(12.32,-0.555)">
<polyline class="ln" stroke="#f00" points="0,342 5,342 6,339 8,345 20,345 22,341 23,344 25,340 27,343 35,340 40,339 42,340 45,338 55,337 60,339 65,338 70,338 72,337 73,332 74,331 76,337 80,336 85,338 90,339 95,338 100,340 105,341 110,339 115,340 118,343 122,342 123,344 125,341 127,342"/>
<polyline class="ln" stroke="#008000" points="0,-46 5,-46 6,-44 10,-44 12,-42 14,-41 16,-43 17,-41 18,-42 19,-45 20,-38 22,-36 24,-35 25,-33 26,-36 27,-32 30,-33 33,-31 34,-33 35,-29 37,-32 38,-32 40,-28 43,-25 44,-20 45,-18 47,-22 50,-22 53,-23 55,-26 60,-25 62,-24 64,-25 66,-26 70,-25 72,-26 73,-34 74,-34 75,-26 80,-27 85,-26 90,-25 95,-26 100,-24 105,-23 110,-23 113,-26 116,-22 120,-23 122,-20 124,-20 126,-22 127,-22"/>
<polyline class="ln" stroke="#00f" points="0,-13 5,-11 6,-9 8,-9 10,-12 12,-8 14,-7 16,-5 18,-4 19,-6 20,-6 22,-9 24,-9 25,-15 26,-9 28,-9 30,-9 32,-8 35,-8 36,-13 38,-8 40,-2 42,5 43,10 44,12 46,9 48,5 52,5 55,1 56,-2 58,1 60,3 63,5 65,4 67,5 70,6 72,6 73,0 74,0 75,6 80,7 84,6 86,4 90,6 95,5 97,3 100,2 103,8 105,4 108,5 111,4 113,7 115,5 117,9 118,8 120,7 122,9 124,12 126,8 127,2"/>
</g></g>
<rect class="ax" x="116.7" y="0" width="1566.6" height="222"/>
<use href="#xt"/>
<path class="tk" d="M116.7,27.75h8M116.7,55.5h8M116.7,83.25h8M116.7,111h8M116.7,138.75h8M116.7,166.5h8M116.7,194.25h8M1683.3,27.75h-8M1683.3,55.5h-8M1683.3,83.25h-8M1683.3,111h-8M1683.3,138.75h-8M1683.3,166.5h-8M1683.3,194.25h-8"/>
<g class="t" text-anchor="end"><text x="108" y="6">350</text><text x="108" y="33.75">300</text><text x="108" y="61.5">250</text><text x="108" y="89.25">200</text><text x="108" y="117">150</text><text x="108" y="144.75">100</text><text x="108" y="172.5">50</text><text x="108" y="200.25">0</text><text x="108" y="228">−50</text></g>
<text class="al" transform="translate(55,111) rotate(-90)" text-anchor="middle">Vsw(km/s)</text>
<rect class="lg" x="1603.7" y="6.1" width="72.3" height="72.5"/>
<line x1="1613" y1="19.4" x2="1636" y2="19.4" stroke="#f00" stroke-width="2"/><line x1="1613" y1="41.3" x2="1636" y2="41.3" stroke="#008000" stroke-width="2"/><line x1="1613" y1="64.1" x2="1636" y2="64.1" stroke="#00f" stroke-width="2"/>
<text x="1651" y="25.4" font-size="15">Vr</text><text x="1651" y="47.3" font-size="15">Vt</text><text x="1651" y="70.1" font-size="15">Vn</text>
</g>

<!-- ================= Plasma Beta ================= -->
<g transform="translate(0,2305.8)">
<text class="ti" x="899.6" y="-11" text-anchor="middle">Plasma Beta</text>
<g clip-path="url(#cT)"><g transform="translate(116.7,471.75) scale(12.32,-5550)">
<polyline class="ln" stroke="#00f" points="0,.0555 1,.053 2,.0497 3,.052 4,.0525 5,.053 6,.0593 7,.057 8,.052 9,.0545 10,.0548 11,.054 12,.0593 13,.058 14,.059 15,.055 16,.0548 17,.053 18,.0568 19,.0548 20,.057 21,.064 22,.0655 23,.067 24,.077 25,.073 26,.0607 27,.0625 28,.066 29,.064 30,.061 31,.0648 32,.0655 33,.0648 34,.0718 35,.0655 36,.0712 37,.0622 38,.0668 39,.0607 40,.0655 41,.070 42,.060 43,.0638 44,.063 45,.0622 46,.062 47,.0607 48,.0641 49,.063 50,.0657 51,.0625 52,.0597 53,.0637 54,.0645 55,.0665 56,.0642 57,.063 58,.0595 59,.0637 60,.065 61,.061 62,.0617 63,.0612 64,.0638 65,.0653 66,.0632 67,.064 68,.0645 69,.0625 70,.064 71,.0618 72,.0622 73,.0712 74,.080 75,.0665 76,.0638 77,.0655 78,.069 79,.0738 80,.0755 81,.069 82,.068 83,.0678 84,.0642 85,.0732 86,.0655 87,.064 88,.0655 89,.0705 90,.068 91,.0645 92,.063 93,.0678 94,.0648 95,.0665 96,.0665 97,.064 98,.0645 99,.0658 100,.0676 101,.0676 102,.063 103,.0622 104,.0655 105,.0678 106,.0612 107,.0635 108,.061 109,.0638 110,.0632 111,.0615 112,.062 113,.064 114,.0676 115,.063 116,.0628 117,.0668 118,.0642 119,.0635 120,.0625 121,.062 122,.061 123,.063 124,.066 125,.0725 126,.0648 127,.0665"/>
</g></g>
<rect class="ax" x="116.7" y="0" width="1566.6" height="222"/>
<use href="#xt"/>
<path class="tk" d="M116.7,27.75h8M116.7,55.5h8M116.7,83.25h8M116.7,111h8M116.7,138.75h8M116.7,166.5h8M116.7,194.25h8M1683.3,27.75h-8M1683.3,55.5h-8M1683.3,83.25h-8M1683.3,111h-8M1683.3,138.75h-8M1683.3,166.5h-8M1683.3,194.25h-8"/>
<g class="t" text-anchor="end"><text x="108" y="6">0.085</text><text x="108" y="33.75">0.080</text><text x="108" y="61.5">0.075</text><text x="108" y="89.25">0.070</text><text x="108" y="117">0.065</text><text x="108" y="144.75">0.060</text><text x="108" y="172.5">0.055</text><text x="108" y="200.25">0.050</text><text x="108" y="228">0.045</text></g>
<text transform="translate(44,111) rotate(-90)" text-anchor="middle" font-size="14" font-style="italic" font-family="Liberation Serif,serif">β<tspan font-size="10" dy="3">p</tspan></text>
</g>

<!-- ================= Proton Number Density ================= -->
<g transform="translate(0,2639.5)">
<text class="ti" x="899.6" y="-11" text-anchor="middle">Proton Number Density</text>
<g clip-path="url(#cT)"><g transform="translate(116.7,1184) scale(12.32,-3.7)">
<polyline class="ln" stroke="#00f" points="0,285 1,279 2,281 3,285 4,287 5,281 6,292 7,288 8,274 9,281 10,273 11,273 12,279.5 13,277.5 14,279.5 15,282.5 16,280.5 17,280.5 18,288 19,280 20,279 21,289 22,287.5 23,299 24,305.5 25,288 26,284.5 27,286 28,297 29,275 30,280 31,287 32,299 33,287 34,295 35,298.5 36,302 37,291 38,295.5 39,281 40,298.5 41,300.5 42,286 43,290.5 44,290 45,287 46,287 47,287.5 48,289.5 49,289.5 50,293 51,289 52,285.5 53,285.5 54,270 55,289 56,290 57,290.5 58,281 59,285 60,285 61,282.5 62,286 63,284.5 64,289 65,293 66,291.5 67,291 68,287 69,285 70,292 71,287 72,285.5 73,306 74,316.5 75,294 76,290.5 77,295 78,298 79,302.5 80,305 81,301.5 82,293.5 83,296 84,290 85,292.5 86,291 87,287 88,284.5 89,289.5 90,289.5 91,289 92,287 93,289 94,289.5 95,292 96,293 97,282.5 98,288 99,286.5 100,285.5 101,279.5 102,282 103,280.5 104,283 105,282.5 106,280.5 107,284 108,280.5 109,283 110,285.5 111,273 112,278 113,282 114,281.5 115,280 116,283 117,286.5 118,274 119,272 120,274.5 121,275 122,272 123,277 124,283 125,281.5 126,271.5 127,280"/>
</g></g>
<rect class="ax" x="116.7" y="0" width="1566.6" height="222"/>
<use href="#xt"/>
<path class="tk" d="M116.7,37h8M116.7,74h8M116.7,111h8M116.7,148h8M116.7,185h8M1683.3,37h-8M1683.3,74h-8M1683.3,111h-8M1683.3,148h-8M1683.3,185h-8"/>
<g class="t" text-anchor="end"><text x="108" y="6">320</text><text x="108" y="43">310</text><text x="108" y="80">300</text><text x="108" y="117">290</text><text x="108" y="154">280</text><text x="108" y="191">270</text><text x="108" y="228">260</text></g>
<text class="al" transform="translate(61,111) rotate(-90)" text-anchor="middle">Np(#/cc)</text>
</g>

<!-- ================= Proton Temperature ================= -->
<g transform="translate(0,2973.2)">
<text class="ti" x="899.6" y="-11" text-anchor="middle">Proton Temperature and <tspan font-style="italic" font-family="Liberation Serif,serif">T<tspan font-size="14" dy="4">e</tspan><tspan dy="-4">/T</tspan><tspan font-size="14" dy="4">p</tspan></tspan></text>
<g clip-path="url(#cT)"><g transform="translate(116.7,761.14) scale(12.32,-15857.14)">
<polyline class="ln" stroke="#00f" points="0,.0378 1,.0369 2,.0341 3,.0355 4,.0354 5,.0366 6,.0392 7,.0383 8,.0367 9,.0371 10,.0384 11,.0381 12,.0410 13,.0400 14,.0406 15,.0371 16,.0375 17,.0361 18,.0376 19,.0375 20,.0394 21,.0415 22,.0428 23,.0424 24,.0469 25,.0473 26,.0398 27,.0405 28,.0411 29,.0433 30,.0408 31,.0424 32,.0412 33,.0425 34,.0455 35,.0409 36,.0442 37,.0404 38,.0422 39,.0404 40,.0405 41,.0428 42,.0391 43,.0410 44,.0406 45,.0407 46,.0405 47,.0396 48,.0417 49,.0410 50,.0423 51,.0409 52,.0393 53,.0415 54,.0451 55,.0438 56,.0418 57,.0407 58,.0399 59,.0420 60,.0426 61,.0405 62,.0405 63,.0403 64,.0412 65,.0417 66,.0404 67,.0409 68,.0421 69,.0411 70,.0409 71,.0401 72,.0405 73,.0440 74,.0472 75,.0422 76,.0408 77,.0411 78,.0427 79,.0449 80,.0455 81,.0423 82,.0426 83,.0421 84,.0409 85,.0462 86,.0412 87,.0410 88,.0424 89,.0451 90,.0434 91,.0410 92,.0405 93,.0433 94,.0412 95,.0420 96,.0418 97,.0417 98,.0413 99,.0424 100,.0435 101,.0445 102,.0410 103,.0408 104,.0426 105,.0443 106,.0403 107,.0410 108,.0401 109,.0413 110,.0407 111,.0413 112,.0408 113,.0415 114,.0440 115,.0414 116,.0408 117,.0428 118,.0428 119,.0427 120,.0415 121,.0411 122,.0410 123,.0413 124,.0425 125,.0469 126,.0433 127,.0429"/>
</g></g>
<rect class="ax" x="116.7" y="0" width="1566.6" height="222"/>
<use href="#xt"/>
<path class="tk" d="M116.7,31.7h8M116.7,63.4h8M116.7,95.1h8M116.7,126.9h8M116.7,158.6h8M116.7,190.3h8M1683.3,31.7h-8M1683.3,63.4h-8M1683.3,95.1h-8M1683.3,126.9h-8M1683.3,158.6h-8M1683.3,190.3h-8"/>
<g class="t" text-anchor="end"><text x="108" y="6">0.048</text><text x="108" y="37.7">0.046</text><text x="108" y="69.4">0.044</text><text x="108" y="101.1">0.042</text><text x="108" y="132.9">0.040</text><text x="108" y="164.6">0.038</text><text x="108" y="196.3">0.036</text><text x="108" y="228">0.034</text></g>
<text class="al" transform="translate(44,111) rotate(-90)" text-anchor="middle">Tp(10<tspan font-size="10" dy="-6">6</tspan><tspan dy="6">K)</tspan></text>
<rect class="lg" x="123" y="6.8" width="72" height="27"/>
<line x1="134" y1="20" x2="156" y2="20" stroke="#00f" stroke-width="2"/>
<text x="170" y="26" font-size="15">Tp</text>
</g>
</svg>
</body></html>
